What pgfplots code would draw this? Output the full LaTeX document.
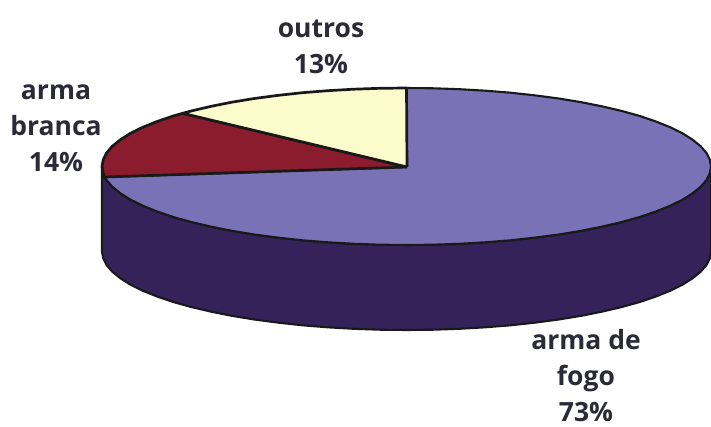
\documentclass[border=0pt]{standalone}
\usepackage{fontspec}
\setmainfont{Open Sans}
\usepackage{pgfplots}
\pgfplotsset{compat=1.18}
\definecolor{topP}{HTML}{7A72B6}
\definecolor{sideP}{HTML}{35225A}
\definecolor{redS}{HTML}{8A1C2E}
\definecolor{yelS}{HTML}{FBFBCB}
\definecolor{txt}{HTML}{2B2B38}
\begin{document}
\begin{tikzpicture}
\begin{axis}[
  scale only axis, width=711pt, height=427pt,
  xmin=0, xmax=711, ymin=0, ymax=427, y dir=reverse,
  axis lines=none, clip=true,
  every axis plot/.append style={line join=round, draw=black!90},
]
% side wall (arma de fogo)
\addplot[fill=sideP, line width=2.1pt] coordinates {
 (102,166.5)(102,251.5)(103.2,258.3)(106.6,265.1)(112.4,271.8)(120.4,278.3)(130.5,284.7)(142.8,290.75)(157.1,296.5)(173.2,302)(191.2,307)(210.8,311.6)(231.8,315.8)(254.25,319.5)(277.8,322.6)(302.4,325.3)(327.7,327.3)(353.6,328.8)(379.9,329.7)(406.5,330)(433.1,329.7)(459.4,328.8)(485.3,327.3)(510.6,325.3)(535.2,322.6)(558.75,319.5)(581.2,315.8)(602.2,311.6)(621.8,307)(639.8,302)(655.9,296.5)(670.2,290.75)(682.5,284.7)(692.6,278.3)(700.6,271.8)(706.4,265.1)(709.8,258.3)(711,251.5)
 (711,166.5)(709.8,173.3)(706.4,180.1)(700.6,186.8)(692.6,193.3)(682.5,199.7)(670.2,205.75)(655.9,211.5)(639.8,217)(621.8,222)(602.2,226.6)(581.2,230.8)(558.75,234.5)(535.2,237.6)(510.6,240.3)(485.3,242.3)(459.4,243.8)(433.1,244.7)(406.5,245)(379.9,244.7)(353.6,243.8)(327.7,242.3)(302.4,240.3)(277.8,237.6)(254.25,234.5)(231.8,230.8)(210.8,226.6)(191.2,222)(173.2,217)(157.1,211.5)(142.8,205.75)(130.5,199.7)(120.4,193.3)(112.4,186.8)(106.6,180.1)(103.2,173.3)(102,166.5)
};
% arma de fogo 73
\addplot[fill=topP, line width=2.1pt] coordinates {
 (407,167)(406.5,88)(433.1,88.3)(459.4,89.2)(485.3,90.7)(510.6,92.7)(535.2,95.4)(558.75,98.5)(581.2,102.2)(602.2,106.4)(621.8,111)(639.8,116)(655.9,121.5)(670.2,127.25)(682.5,133.3)(692.6,139.7)(700.6,146.2)(706.4,152.9)(709.8,159.7)(711,166.5)(709.8,173.3)(706.4,180.1)(700.6,186.8)(692.6,193.3)(682.5,199.7)(670.2,205.75)(655.9,211.5)(639.8,217)(621.8,222)(602.2,226.6)(581.2,230.8)(558.75,234.5)(535.2,237.6)(510.6,240.3)(485.3,242.3)(459.4,243.8)(433.1,244.7)(406.5,245)(379.9,244.7)(353.6,243.8)(327.7,242.3)(302.4,240.3)(277.8,237.6)(254.25,234.5)(231.8,230.8)(210.8,226.6)(191.2,222)(173.2,217)(157.1,211.5)(142.8,205.75)(130.5,199.7)(120.4,193.3)(112.4,186.8)(106.6,180.1)(104.7,177)(407,167)
};
% arma branca 14
\addplot[fill=redS, line width=2.7pt] coordinates {
 (407,167)(104.7,177)(103.2,173.3)(102,166.5)(103.2,159.7)(106.6,152.9)(112.4,146.2)(120.4,139.7)(130.5,133.3)(142.8,127.25)(157.1,121.5)(173.2,116)(182.7,113.3)(407,167)
};
% outros 13
\addplot[fill=yelS, line width=2.7pt] coordinates {
 (407,167)(182.7,113.3)(191.2,111)(210.8,106.4)(231.8,102.2)(254.25,98.5)(277.8,95.4)(302.4,92.7)(327.7,90.7)(353.6,89.2)(379.9,88.3)(406.5,88)(407,167)
};
\node[inner sep=0pt, font=\fontsize{26.5}{36}\selectfont\bfseries, text=txt, align=center] at (axis cs:321,46.5) {outros\\13\%};
\node[inner sep=0pt, font=\fontsize{26.5}{36}\selectfont\bfseries, text=txt, align=center] at (axis cs:56,128.5) {arma\\branca\\14\%};
\node[inner sep=0pt, font=\fontsize{26.5}{36}\selectfont\bfseries, text=txt, align=center] at (axis cs:586,376) {arma de\\fogo\\73\%};
\coordinate (sw) at (axis cs:0,427);
\coordinate (ne) at (axis cs:711,0);
\end{axis}
\pgfresetboundingbox
\path[use as bounding box] (sw) rectangle (ne);
\end{tikzpicture}
\end{document}
